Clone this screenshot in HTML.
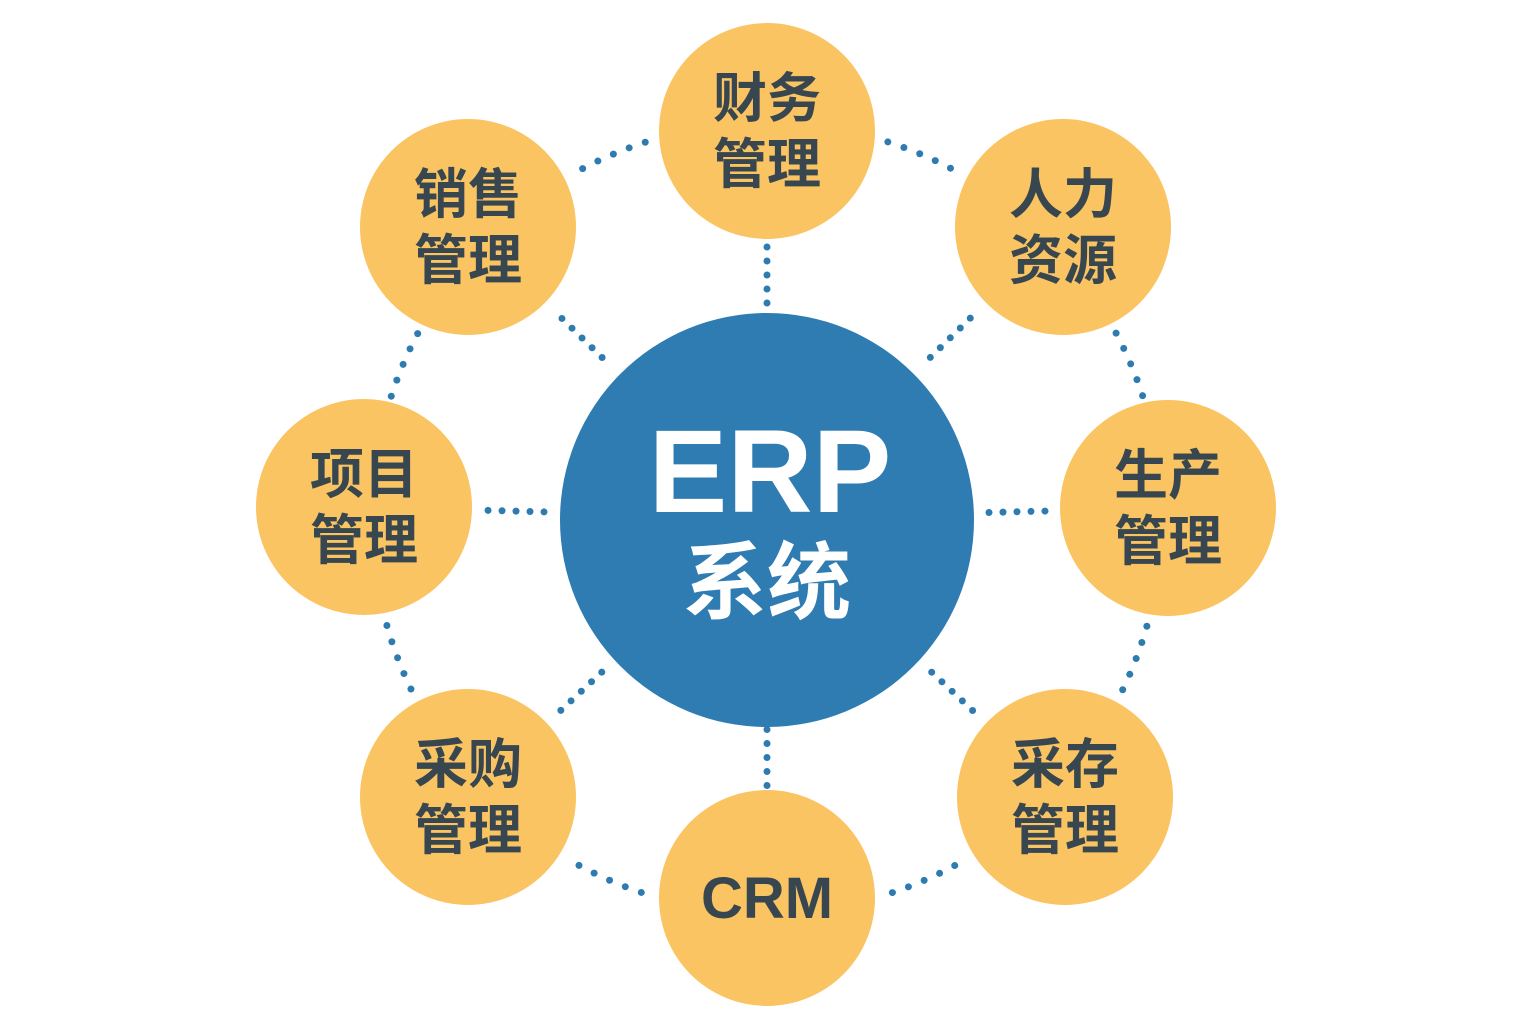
<!DOCTYPE html>
<html><head><meta charset="utf-8"><style>
html,body{margin:0;padding:0;background:#fff}
svg{display:block}
text{font-family:"Liberation Sans","Noto Sans CJK SC",sans-serif;font-weight:bold}
</style></head><body>
<svg id="s" width="1536" height="1024" viewBox="0 0 1536 1024" xmlns="http://www.w3.org/2000/svg">
<g id="dots" fill="#2e7bb0"></g>
<circle cx="767" cy="520" r="207" fill="#2e7cb1"/>
<text x="770" y="512" text-anchor="middle" font-size="118" fill="#fff">ERP</text>
<text x="767" y="612" text-anchor="middle" font-size="84" fill="#fff">系统</text>
<g id="nodes"></g>
</svg>
<script>
var C=[767,518];
var N=[["财务","管理",767,131],["人力","资源",1063,227],["生产","管理",1168,508],["采存","管理",1065,797],["CRM","",767,898],["采购","管理",468,797],["项目","管理",364,507],["销售","管理",468,227]];
var ns="http://www.w3.org/2000/svg",g=document.getElementById("nodes"),d=document.getElementById("dots");
function el(t,a,p){var e=document.createElementNS(ns,t);for(var k in a)e.setAttribute(k,a[k]);p.appendChild(e);return e;}
N.forEach(function(n,i){
 el("circle",{cx:n[2],cy:n[3],r:108,fill:"#fbc462"},g);
 if(n[1]){
  el("text",{x:n[2],y:n[3]-14,"text-anchor":"middle","font-size":54,fill:"#38474f"},g).textContent=n[0];
  el("text",{x:n[2],y:n[3]+52,"text-anchor":"middle","font-size":54,fill:"#38474f"},g).textContent=n[1];
 } else {
  el("text",{x:n[2],y:n[3]+20,"text-anchor":"middle","font-size":58,fill:"#38474f"},g).textContent=n[0];
 }
 // spoke
 var dx=n[2]-C[0],dy=n[3]-C[1],L=Math.sqrt(dx*dx+dy*dy),ux=dx/L,uy=dy/L;
 var mid=(207+(L-108))/2;
 for(var k=-2;k<=2;k++){var t=mid+k*14;el("circle",{cx:C[0]+ux*t,cy:C[1]+uy*t,r:3.5},d);}
 // arc to next
 var m=N[(i+1)%8];
 var a1=Math.atan2(n[3]-C[1],n[2]-C[0]),a2=Math.atan2(m[3]-C[1],m[2]-C[0]);
 var da=a2-a1;while(da>Math.PI)da-=2*Math.PI;while(da<-Math.PI)da+=2*Math.PI;
 var am=a1+da/2,R=395,step=17/R;
 for(var k=-2;k<=2;k++){var a=am+k*step;el("circle",{cx:C[0]+R*Math.cos(a),cy:C[1]+R*Math.sin(a),r:3.5},d);}
});
</script>
</body></html>
